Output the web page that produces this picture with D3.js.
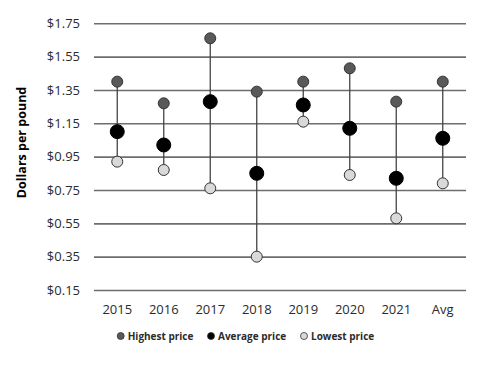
<!DOCTYPE html>
<html><head><meta charset="utf-8">
<script src="https://cdn.jsdelivr.net/npm/d3@7"></script>
<style>body{margin:0;background:#fff;} svg{display:block;}</style>
</head><body>
<svg id="chart" width="480" height="379"></svg>
<script>
const categories = ["2015","2016","2017","2018","2019","2020","2021","Avg"];
const highest = [1.40, 1.27, 1.66, 1.34, 1.40, 1.48, 1.28, 1.40];
const average = [1.10, 1.02, 1.28, 0.85, 1.26, 1.12, 0.82, 1.06];
const lowest  = [0.92, 0.87, 0.76, 0.35, 1.16, 0.84, 0.58, 0.79];
const yTicks = [0.15, 0.35, 0.55, 0.75, 0.95, 1.15, 1.35, 1.55, 1.75];

const svg = d3.select("#chart");
const font = "'Open Sans', sans-serif";
const x = d3.scaleBand().domain(categories).range([94, 466]);
const y = d3.scaleLinear().domain([0.15, 1.75]).range([290, 23.3]);

// gridlines
const yAxis = d3.axisLeft(y).tickValues(yTicks).tickSize(-(466-94)).tickFormat(d => "$" + d.toFixed(2));
const gy = svg.append("g").attr("transform","translate(94,0)").call(yAxis);
gy.select(".domain").remove();
gy.selectAll(".tick line").attr("stroke","#6e6e6e").attr("stroke-width",1.6);
gy.selectAll(".tick text").attr("x",-14).attr("fill","#2b2b2b").style("font-family",font).style("font-size","13px");

const xAxis = d3.axisBottom(x).tickSize(0);
const gx = svg.append("g").attr("transform","translate(0,290)").call(xAxis);
gx.select(".domain").remove();
gx.selectAll(".tick text").attr("dy","0").attr("y",24).attr("fill","#2b2b2b").style("font-family",font).style("font-size","13px");

const rows = categories.map((c,i)=>({c, h:highest[i], a:average[i], l:lowest[i]}));
const cx = d => x(d.c) + x.bandwidth()/2;

svg.append("g").selectAll("line").data(rows).join("line")
  .attr("x1",cx).attr("x2",cx).attr("y1",d=>y(d.h)).attr("y2",d=>y(d.l))
  .attr("stroke","#444").attr("stroke-width",1.3);

svg.append("g").selectAll("circle").data(rows).join("circle")
  .attr("cx",cx).attr("cy",d=>y(d.l)).attr("r",5.5)
  .attr("fill","#d9d9d9").attr("stroke","#333").attr("stroke-width",1);
svg.append("g").selectAll("circle").data(rows).join("circle")
  .attr("cx",cx).attr("cy",d=>y(d.h)).attr("r",5.5)
  .attr("fill","#595959").attr("stroke","#333").attr("stroke-width",1);
svg.append("g").selectAll("circle").data(rows).join("circle")
  .attr("cx",cx).attr("cy",d=>y(d.a)).attr("r",7)
  .attr("fill","#000").attr("stroke","#000").attr("stroke-width",1);

// y label
svg.append("text").attr("transform","translate(26,142.5) rotate(-90)")
  .attr("text-anchor","middle").style("font-family",font).style("font-weight","bold")
  .style("font-size","12.5px").attr("fill","#000").text("Dollars per pound");

// legend
const legendNames = ["Highest price","Average price","Lowest price"];
const legendFills = ["#595959","#000","#d9d9d9"];
const legendX = [120.7, 211, 304];
const lg = svg.append("g").selectAll("g").data(legendNames).join("g")
  .attr("transform",(d,i)=>`translate(${legendX[i]},336)`);
lg.append("circle").attr("r",3.5).attr("fill",(d,i)=>legendFills[i]).attr("stroke","#333").attr("stroke-width",0.8);
lg.append("text").attr("x",7).attr("dy","0.35em").style("font-family",font).style("font-weight","bold")
  .style("font-size","10px").attr("fill","#2b2b2b").text(d=>d);
</script>
</body></html>
